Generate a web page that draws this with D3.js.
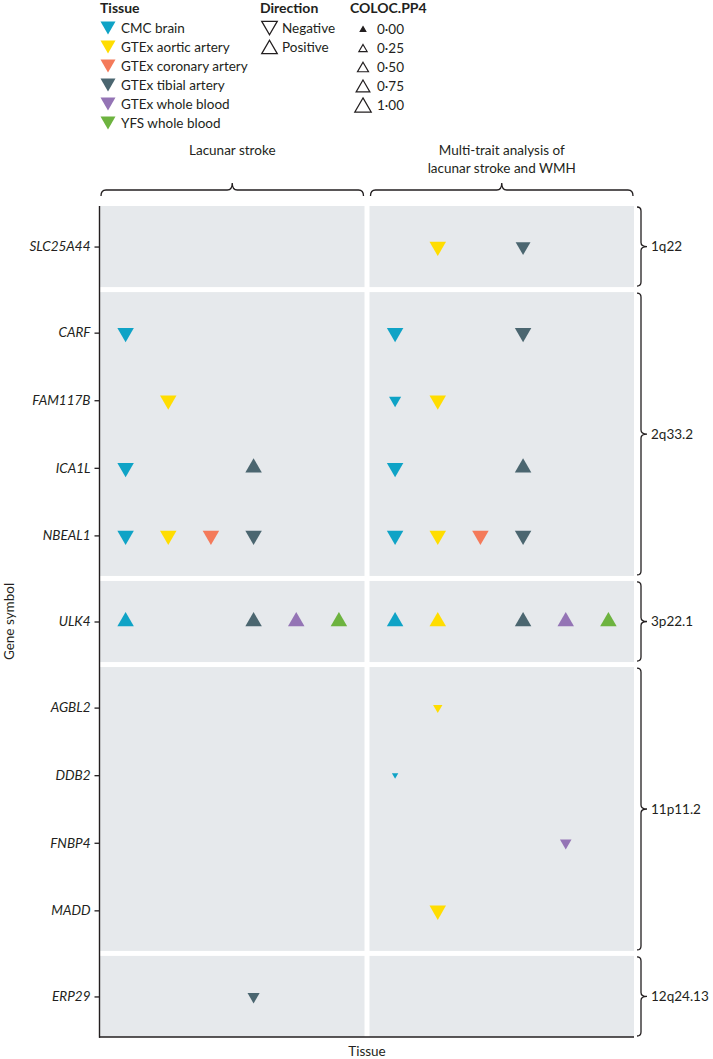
<!DOCTYPE html>
<html>
<head>
<meta charset="utf-8">
<script src="https://cdn.jsdelivr.net/npm/d3@7"></script>
<style>
  html, body { margin: 0; padding: 0; background: #fff; }
  svg { display: block; }
  text { font-family: Lato, "Open Sans", sans-serif; fill: #231f20; }
</style>
</head>
<body>
<svg id="chart" width="713" height="1059"></svg>
<script>
// ---------- data ----------
const tissues = ["CMC brain", "GTEx aortic artery", "GTEx coronary artery", "GTEx tibial artery", "GTEx whole blood", "YFS whole blood"];
const tissueColors = ["#0fa3c6", "#ffdd00", "#f47a5a", "#4b6670", "#9474b5", "#6db33f"];
const loci = ["1q22", "2q33.2", "3p22.1", "11p11.2", "12q24.13"];
const genes = ["SLC25A44", "CARF", "FAM117B", "ICA1L", "NBEAL1", "ULK4", "AGBL2", "DDB2", "FNBP4", "MADD", "ERP29"];
const geneLocus = ["1q22", "2q33.2", "2q33.2", "2q33.2", "2q33.2", "3p22.1", "11p11.2", "11p11.2", "11p11.2", "11p11.2", "12q24.13"];
const analyses = ["Lacunar stroke", "Multi-trait analysis of\nlacunar stroke and WMH"];
const directions = ["Negative", "Positive"];
const pp4Breaks = [0, 0.25, 0.5, 0.75, 1];
const pp4Labels = ["0·00", "0·25", "0·50", "0·75", "1·00"];

// [gene, tissue, direction, COLOC.PP4]
const lacunarPoints = [
  ["CARF", "CMC brain", "Negative", 1.0],
  ["FAM117B", "GTEx aortic artery", "Negative", 1.0],
  ["ICA1L", "CMC brain", "Negative", 1.0],
  ["ICA1L", "GTEx tibial artery", "Positive", 1.0],
  ["NBEAL1", "CMC brain", "Negative", 1.0],
  ["NBEAL1", "GTEx aortic artery", "Negative", 1.0],
  ["NBEAL1", "GTEx coronary artery", "Negative", 1.0],
  ["NBEAL1", "GTEx tibial artery", "Negative", 1.0],
  ["ULK4", "CMC brain", "Positive", 1.0],
  ["ULK4", "GTEx tibial artery", "Positive", 1.0],
  ["ULK4", "GTEx whole blood", "Positive", 1.0],
  ["ULK4", "YFS whole blood", "Positive", 1.0],
  ["ERP29", "GTEx tibial artery", "Negative", 0.6]
];
const mtagPoints = [
  ["SLC25A44", "GTEx aortic artery", "Negative", 1.0],
  ["SLC25A44", "GTEx tibial artery", "Negative", 0.85],
  ["CARF", "CMC brain", "Negative", 1.0],
  ["CARF", "GTEx tibial artery", "Negative", 1.0],
  ["FAM117B", "CMC brain", "Negative", 0.6],
  ["FAM117B", "GTEx aortic artery", "Negative", 1.0],
  ["ICA1L", "CMC brain", "Negative", 1.0],
  ["ICA1L", "GTEx tibial artery", "Positive", 1.0],
  ["NBEAL1", "CMC brain", "Negative", 1.0],
  ["NBEAL1", "GTEx aortic artery", "Negative", 1.0],
  ["NBEAL1", "GTEx coronary artery", "Negative", 1.0],
  ["NBEAL1", "GTEx tibial artery", "Negative", 1.0],
  ["ULK4", "CMC brain", "Positive", 1.0],
  ["ULK4", "GTEx aortic artery", "Positive", 1.0],
  ["ULK4", "GTEx tibial artery", "Positive", 1.0],
  ["ULK4", "GTEx whole blood", "Positive", 1.0],
  ["ULK4", "YFS whole blood", "Positive", 1.0],
  ["AGBL2", "GTEx aortic artery", "Negative", 0.35],
  ["DDB2", "CMC brain", "Negative", 0.08],
  ["FNBP4", "GTEx whole blood", "Negative", 0.55],
  ["MADD", "GTEx aortic artery", "Negative", 1.0]
];
const panelPoints = [lacunarPoints, mtagPoints];

// ---------- layout ----------
const svg = d3.select("#chart");
const ink = "#231f20";
const panelFill = "#e6e9ec";
const plotLeft = 100, plotRight = 634, plotTop = 206, plotBottom = 1037;
const hGap = 5, vGap = 5;

const color = d3.scaleOrdinal().domain(tissues).range(tissueColors);
const widthScale = d3.scaleLinear().domain([0, 1]).range([5.5, 16.5]);

// triangle path centred on circumcentre (like R pch 24/25)
function tri(w, up) {
  const r = w / Math.sqrt(3);
  const s = up ? 1 : -1;
  return `M0,${-s * r}L${w / 2},${s * r / 2}L${-w / 2},${s * r / 2}Z`;
}
// offset that puts the triangle's bounding box centre on the anchor
function boxOffset(w, up) {
  const r = w / Math.sqrt(3);
  return up ? r / 4 : -r / 4;
}

// x panels
const panelW = (plotRight - plotLeft - hGap * (analyses.length - 1)) / analyses.length;
const panelX = d3.scaleBand().domain(d3.range(analyses.length)).range([plotLeft, plotRight]).paddingInner(hGap / (panelW + hGap)).paddingOuter(0);
const xScales = analyses.map((a, i) =>
  d3.scalePoint().domain(tissues).range([panelX(i), panelX(i) + panelX.bandwidth()]).padding(0.6));

// y facets
const facetGenes = loci.map(l => genes.filter((g, i) => geneLocus[i] === l));
const facetUnits = facetGenes.map(g => g.length - 1 + 1.2);
const unit = (plotBottom - plotTop - vGap * (loci.length - 1)) / d3.sum(facetUnits);
let cursor = plotTop;
const facets = loci.map((l, i) => {
  const top = cursor, h = facetUnits[i] * unit;
  cursor += h + vGap;
  return { locus: l, top, bottom: top + h, y: d3.scalePoint().domain(facetGenes[i]).range([top, top + h]).padding(0.6) };
});
const geneY = g => {
  const f = facets[loci.indexOf(geneLocus[genes.indexOf(g)])];
  return f.y(g);
};

// panel backgrounds
facets.forEach(f => {
  analyses.forEach((a, i) => {
    svg.append("rect").attr("x", panelX(i)).attr("y", f.top)
      .attr("width", panelX.bandwidth()).attr("height", f.bottom - f.top)
      .attr("fill", panelFill);
  });
});

// points
panelPoints.forEach((pts, i) => {
  svg.append("g").selectAll("path").data(pts).join("path")
    .attr("transform", d => `translate(${xScales[i](d[1])},${geneY(d[0])})`)
    .attr("d", d => tri(widthScale(d[3]), d[2] === "Positive"))
    .attr("fill", d => color(d[1]));
});

// y axes per facet (ticks + labels)
facets.forEach(f => {
  const ax = d3.axisLeft(f.y).tickSize(5).tickPadding(4);
  const g = svg.append("g").attr("transform", `translate(${plotLeft - 0.5},0)`).call(ax);
  g.select(".domain").remove();
  g.selectAll(".tick line").attr("stroke", ink).attr("stroke-width", 1.3);
  g.selectAll(".tick text").attr("font-family", "Lato, sans-serif").attr("font-size", 13.5)
    .attr("font-style", "italic").attr("fill", ink);
});
// axis lines
svg.append("line").attr("x1", plotLeft - 0.5).attr("x2", plotLeft - 0.5).attr("y1", plotTop).attr("y2", plotBottom + 0.7)
  .attr("stroke", ink).attr("stroke-width", 1.4);
svg.append("line").attr("x1", plotLeft - 1).attr("x2", plotRight).attr("y1", plotBottom).attr("y2", plotBottom)
  .attr("stroke", ink).attr("stroke-width", 1.4);

// axis titles
svg.append("text").attr("x", (plotLeft + plotRight) / 2).attr("y", 1056).attr("text-anchor", "middle")
  .attr("font-size", 13.5).text("Tissue");
svg.append("text").attr("transform", `translate(14,${(plotTop + plotBottom) / 2}) rotate(-90)`)
  .attr("text-anchor", "middle").attr("font-size", 13.5).text("Gene symbol");

// right strip braces
facets.forEach(f => {
  const x0 = 637, x1 = 647, t = f.top + 1, b = f.bottom - 1, m = (t + b) / 2, c = 4;
  const p = `M${x0},${t} Q${x0 + c},${t} ${x0 + c},${t + c} L${x0 + c},${m - c} Q${x0 + c},${m} ${x1},${m} Q${x0 + c},${m} ${x0 + c},${m + c} L${x0 + c},${b - c} Q${x0 + c},${b} ${x0},${b}`;
  svg.append("path").attr("d", p).attr("fill", "none").attr("stroke", ink).attr("stroke-width", 1.3);
  svg.append("text").attr("x", 651).attr("y", m).attr("dy", "0.35em").attr("font-size", 13.5).text(f.locus);
});

// top braces & titles
analyses.forEach((a, i) => {
  const x0 = panelX(i) + 1, x1 = panelX(i) + panelX.bandwidth() - 1, xm = (x0 + x1) / 2;
  const yb = 196, yl = 190, yt = 183, c = 5;
  const p = `M${x0},${yb} Q${x0},${yl} ${x0 + c},${yl} L${xm - c},${yl} Q${xm},${yl} ${xm},${yt} Q${xm},${yl} ${xm + c},${yl} L${x1 - c},${yl} Q${x1},${yl} ${x1},${yb}`;
  svg.append("path").attr("d", p).attr("fill", "none").attr("stroke", ink).attr("stroke-width", 1.3);
  const lines = a.split("\n");
  const tx = svg.append("text").attr("x", xm).attr("y", 155).attr("text-anchor", "middle").attr("font-size", 13.5);
  lines.forEach((ln, k) => tx.append("tspan").attr("x", xm).attr("dy", k === 0 ? 0 : 18).text(ln));
});

// ---------- legends ----------
const legY = d3.scalePoint().domain(d3.range(6)).range([28, 123]);
// Tissue
svg.append("text").attr("x", 100).attr("y", 13).attr("font-size", 14).attr("font-weight", "bold").text("Tissue");
tissues.forEach((t, k) => {
  svg.append("path").attr("transform", `translate(108,${legY(k) + boxOffset(15, false)})`).attr("d", tri(15, false)).attr("fill", color(t));
  svg.append("text").attr("x", 121).attr("y", legY(k)).attr("dy", "0.35em").attr("font-size", 13.5).text(t);
});
// Direction
svg.append("text").attr("x", 260).attr("y", 13).attr("font-size", 14).attr("font-weight", "bold").text("Direction");
directions.forEach((d, k) => {
  const up = d === "Positive";
  svg.append("path").attr("transform", `translate(269.5,${legY(k) + boxOffset(15.5, up)})`).attr("d", tri(15.5, up))
    .attr("fill", "none").attr("stroke", ink).attr("stroke-width", 1.3);
  svg.append("text").attr("x", 282).attr("y", legY(k)).attr("dy", "0.35em").attr("font-size", 13.5).text(d);
});
// COLOC.PP4
svg.append("text").attr("x", 350).attr("y", 13).attr("font-size", 14).attr("font-weight", "bold").text("COLOC.PP4");
pp4Breaks.forEach((v, k) => {
  const w = widthScale(v);
  svg.append("path").attr("transform", `translate(363,${legY(k) + 1 + boxOffset(w, true)})`).attr("d", tri(w, true))
    .attr("fill", v === 0 ? ink : "none").attr("stroke", ink).attr("stroke-width", 1.2);
  svg.append("text").attr("x", 377).attr("y", legY(k) + 1).attr("dy", "0.35em").attr("font-size", 13.5).text(pp4Labels[k]);
});
</script>
</body>
</html>
